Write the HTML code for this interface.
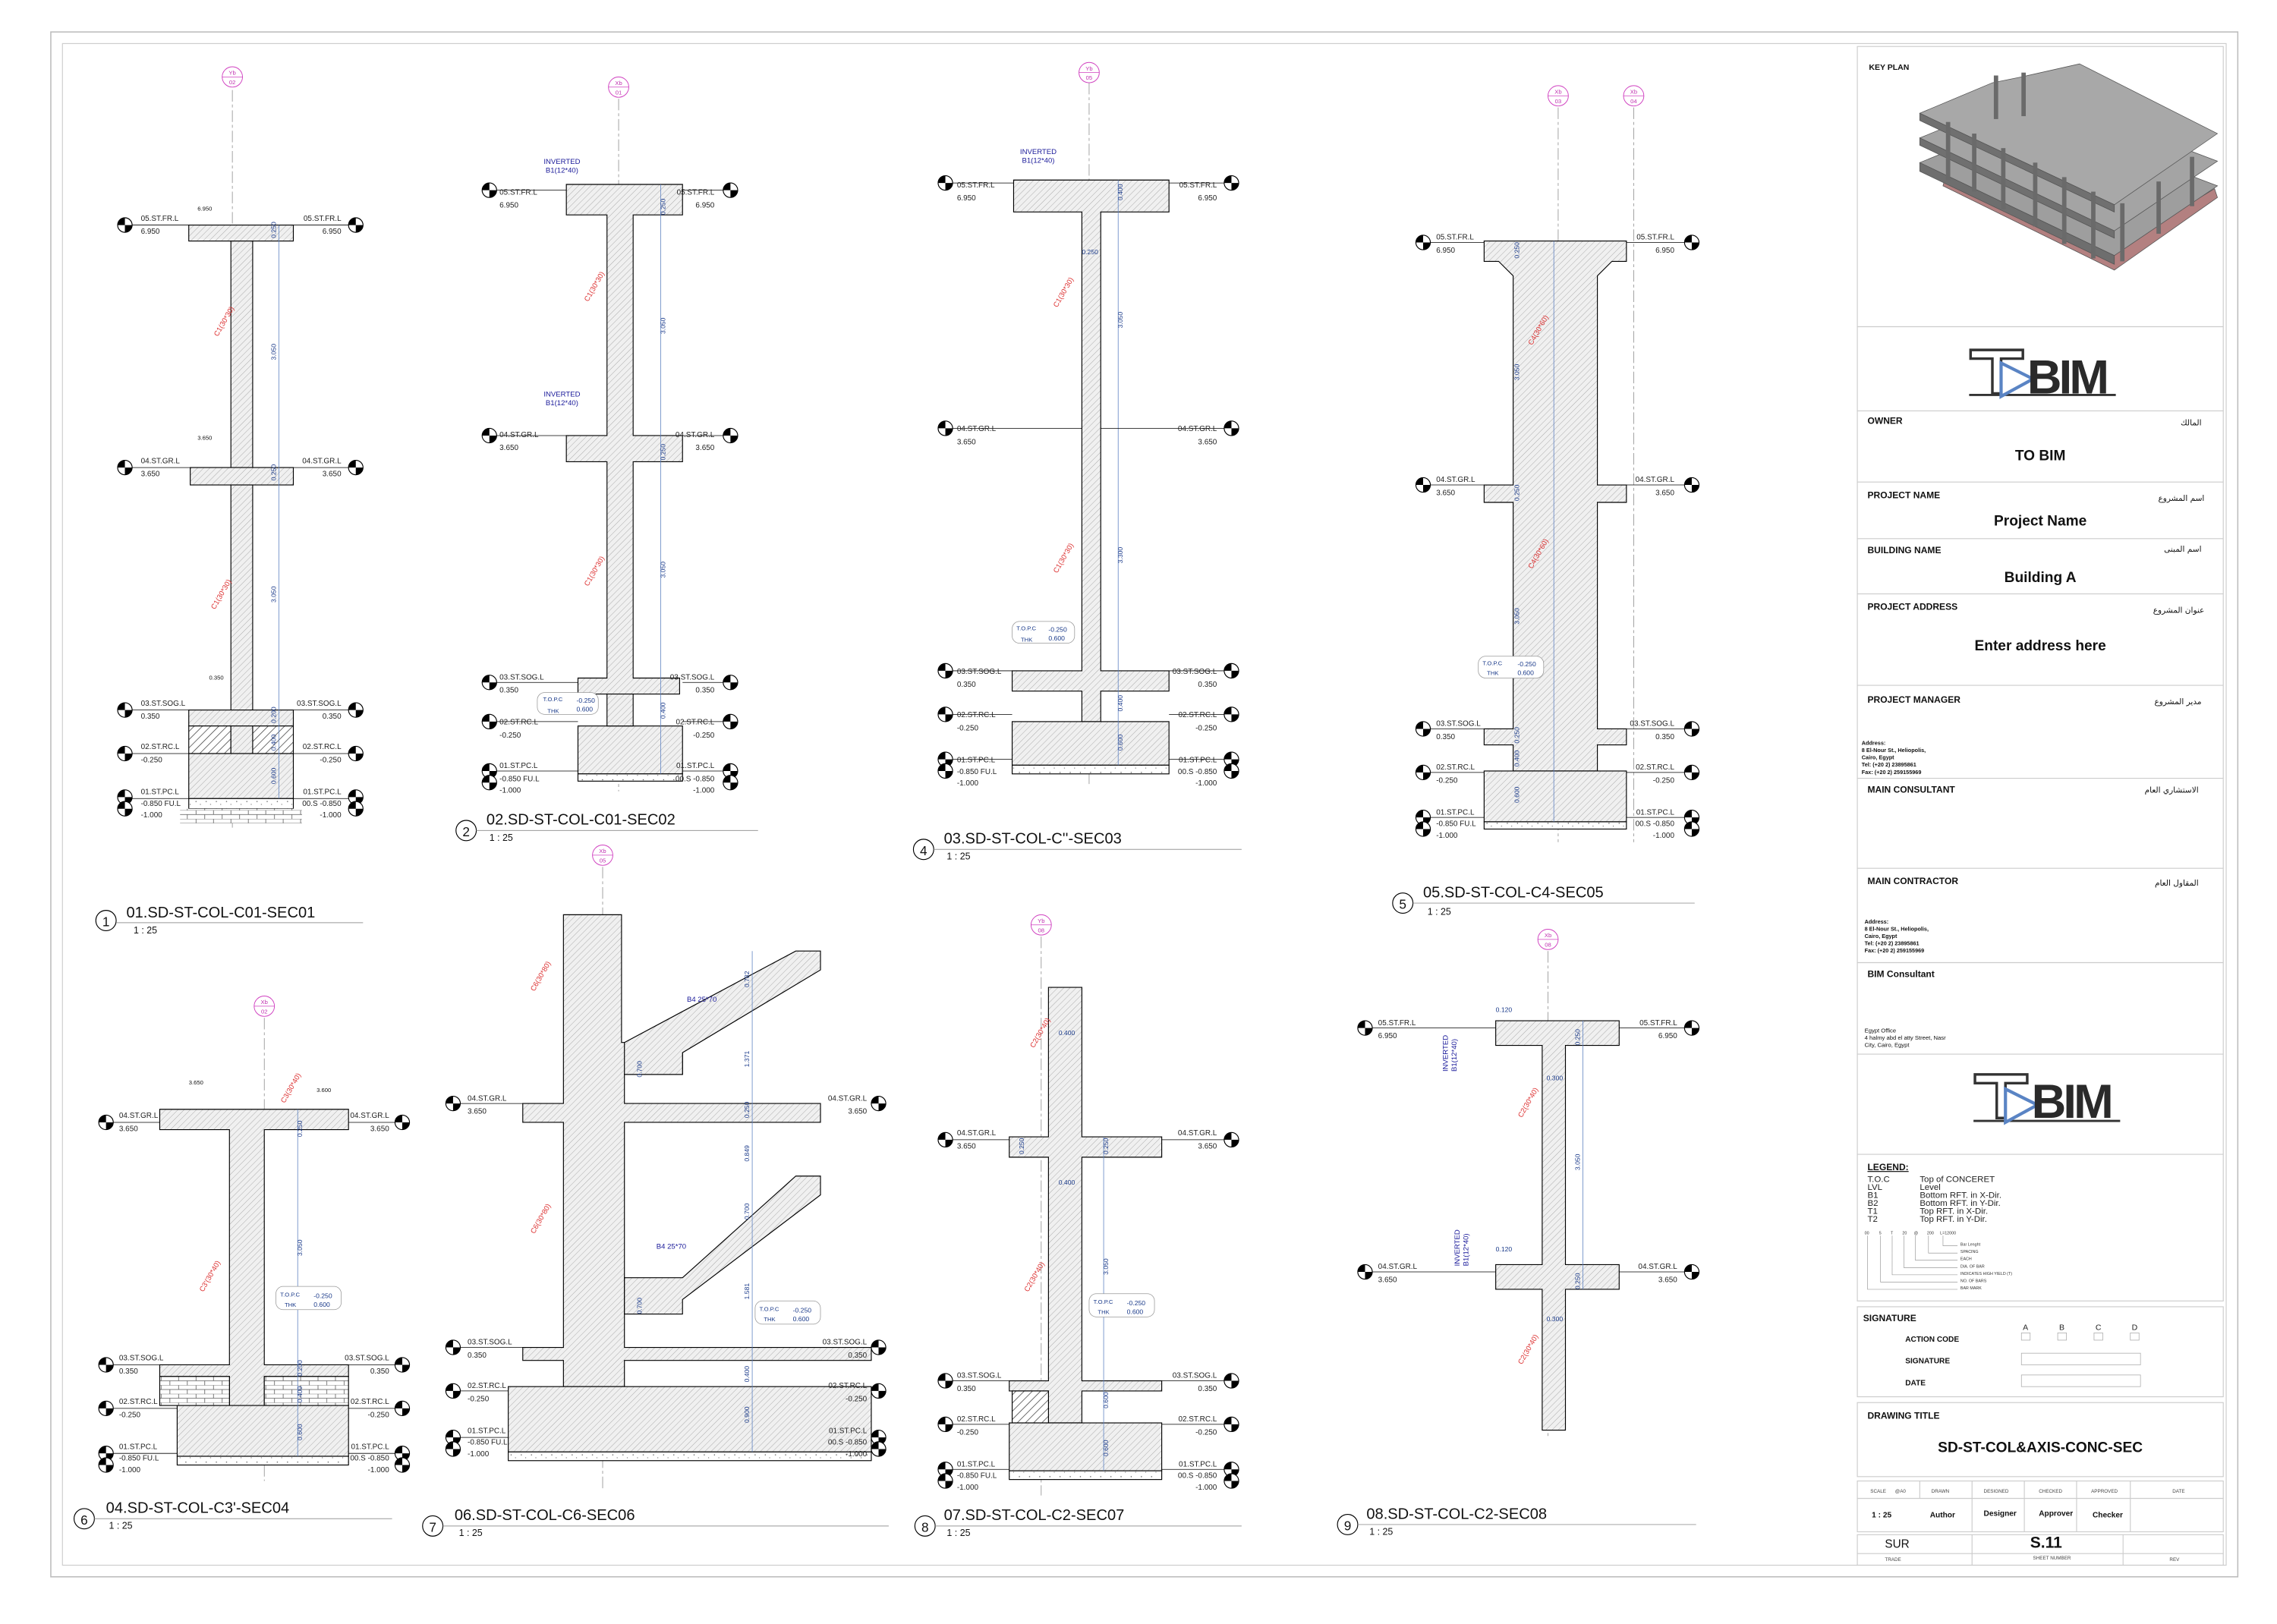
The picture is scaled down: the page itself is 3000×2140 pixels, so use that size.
<!DOCTYPE html>
<html><head><meta charset="utf-8"><style>
html,body{margin:0;padding:0;background:#fff}
svg{display:block}
text{font-family:"Liberation Sans",sans-serif}
.lv{font-size:5.2px;fill:#222}
.b{font-weight:bold}
.dim{font-size:4.5px;fill:#1a3a8a}
.red{font-size:5px;fill:#d33}
.blu{font-size:5px;fill:#1a1a9a}
.ttl{font-size:10.5px;fill:#111}
.sc{font-size:6.5px;fill:#111}
.hd{font-size:6.3px;font-weight:bold;fill:#111}
.bg{font-size:10px;font-weight:bold;fill:#111}
.sm{font-size:4px;fill:#111}
.ar{font-size:5.5px;fill:#111;font-family:"DejaVu Sans",sans-serif}
</style></head><body>
<svg width="3000" height="2140" viewBox="0 0 1568 1118.5" xmlns="http://www.w3.org/2000/svg">
<defs>
<pattern id="h" patternUnits="userSpaceOnUse" width="3" height="3" patternTransform="rotate(45)"><rect width="3" height="3" fill="#f0f0f0"/><line x1="0" y1="0" x2="0" y2="3" stroke="#8a8a8a" stroke-width="0.35"/></pattern>
<pattern id="hh" patternUnits="userSpaceOnUse" width="4" height="4" patternTransform="rotate(45)"><rect width="4" height="4" fill="#fff"/><line x1="0" y1="0" x2="0" y2="4" stroke="#444" stroke-width="0.8"/></pattern>
<pattern id="dt" patternUnits="userSpaceOnUse" width="7" height="5"><rect width="7" height="5" fill="#fff"/><circle cx="2" cy="2" r="0.4" fill="#555"/><circle cx="5" cy="4" r="0.3" fill="#555"/></pattern>
<pattern id="br" patternUnits="userSpaceOnUse" width="12" height="6"><rect width="12" height="6" fill="#fff"/><path d="M0 0H12M0 3H12M3 0V3M9 3V6" stroke="#555" stroke-width="0.4" fill="none"/></pattern>
<symbol id="m" viewBox="-6 -6 12 12" overflow="visible"><circle r="5" fill="#fff" stroke="#000" stroke-width="0.6"/><path d="M0 0H-5A5 5 0 0 1 0-5Z M0 0H5A5 5 0 0 1 0 5Z" fill="#000"/></symbol>
</defs>
<rect width="1568" height="1118.5" fill="#fff"/>
<rect x="35" y="22" width="1506" height="1064" fill="none" stroke="#bbb" stroke-width="0.8"/>
<rect x="43" y="30" width="1490" height="1048" fill="none" stroke="#ccc" stroke-width="0.6"/>

<g stroke="#000" stroke-width="0.6">
<!-- ===== SECTION 1 ===== -->
<line x1="160" y1="62" x2="160" y2="570" stroke="#888" stroke-width="0.4" stroke-dasharray="8 2 2 2"/>
<rect x="130" y="155" width="72" height="11" fill="url(#h)"/>
<rect x="159" y="166" width="15" height="156" fill="url(#h)"/>
<rect x="131" y="322" width="71" height="12" fill="url(#h)"/>
<rect x="159" y="334" width="15" height="155" fill="url(#h)"/>
<rect x="130" y="489" width="72" height="11" fill="url(#h)"/>
<rect x="130" y="500" width="29" height="19" fill="url(#hh)"/>
<rect x="174" y="500" width="28" height="19" fill="url(#hh)"/>
<rect x="159" y="500" width="15" height="19" fill="url(#h)"/>
<rect x="130" y="519" width="72" height="31" fill="url(#h)"/>
<rect x="130" y="550" width="72" height="7" fill="url(#dt)"/>
<rect x="124" y="557" width="84" height="10" fill="url(#br)" stroke="none"/>
<line x1="192" y1="155" x2="192" y2="550" stroke="#5a7fc0" stroke-width="0.4"/>
<g stroke-width="0.4"><line x1="91" y1="155" x2="130" y2="155"/><line x1="202" y1="155" x2="240" y2="155"/><line x1="91" y1="322" x2="131" y2="322"/><line x1="202" y1="322" x2="240" y2="322"/><line x1="91" y1="489" x2="130" y2="489"/><line x1="202" y1="489" x2="240" y2="489"/><line x1="91" y1="519" x2="130" y2="519"/><line x1="202" y1="519" x2="240" y2="519"/><line x1="91" y1="550" x2="130" y2="550"/><line x1="202" y1="550" x2="240" y2="550"/></g>
</g>
<g>
<circle cx="160" cy="53" r="7" fill="#fff" stroke="#d040c0" stroke-width="0.5"/><line x1="153" y1="53" x2="167" y2="53" stroke="#d040c0" stroke-width="0.4"/>
<text x="160" y="51.5" class="sm" text-anchor="middle" style="fill:#c030b0">Yb</text><text x="160" y="58" class="sm" text-anchor="middle" style="fill:#c030b0">02</text>
<use href="#m" x="80" y="149" width="12" height="12"/><use href="#m" x="239" y="149" width="12" height="12"/>
<use href="#m" x="80" y="316" width="12" height="12"/><use href="#m" x="239" y="316" width="12" height="12"/>
<use href="#m" x="80" y="483" width="12" height="12"/><use href="#m" x="239" y="483" width="12" height="12"/>
<use href="#m" x="80" y="513" width="12" height="12"/><use href="#m" x="239" y="513" width="12" height="12"/>
<use href="#m" x="80" y="543" width="12" height="12"/><use href="#m" x="239" y="543" width="12" height="12"/>
<use href="#m" x="80" y="551" width="12" height="12"/><use href="#m" x="239" y="551" width="12" height="12"/>
<text x="97" y="152" class="lv">05.ST.FR.L</text><text x="97" y="161" class="lv">6.950</text>
<text x="235" y="152" class="lv" text-anchor="end">05.ST.FR.L</text><text x="235" y="161" class="lv" text-anchor="end">6.950</text>
<text x="97" y="319" class="lv">04.ST.GR.L</text><text x="97" y="328" class="lv">3.650</text>
<text x="235" y="319" class="lv" text-anchor="end">04.ST.GR.L</text><text x="235" y="328" class="lv" text-anchor="end">3.650</text>
<text x="97" y="486" class="lv">03.ST.SOG.L</text><text x="97" y="495" class="lv">0.350</text>
<text x="235" y="486" class="lv" text-anchor="end">03.ST.SOG.L</text><text x="235" y="495" class="lv" text-anchor="end">0.350</text>
<text x="97" y="516" class="lv">02.ST.RC.L</text><text x="97" y="525" class="lv">-0.250</text>
<text x="235" y="516" class="lv" text-anchor="end">02.ST.RC.L</text><text x="235" y="525" class="lv" text-anchor="end">-0.250</text>
<text x="97" y="547" class="lv">01.ST.PC.L</text><text x="97" y="555" class="lv">-0.850 FU.L</text><text x="97" y="563" class="lv">-1.000</text>
<text x="235" y="547" class="lv" text-anchor="end">01.ST.PC.L</text><text x="235" y="555" class="lv" text-anchor="end">00.S -0.850</text><text x="235" y="563" class="lv" text-anchor="end">-1.000</text>
<text x="136" y="145" class="sm">6.950</text><text x="136" y="303" class="sm">3.650</text><text x="144" y="468" class="sm">0.350</text>
<text class="red" transform="translate(150,232) rotate(-60)">C1(30*30)</text>
<text class="red" transform="translate(148,420) rotate(-60)">C1(30*30)</text>
<text class="dim" transform="translate(190,248) rotate(-90)">3.050</text><text class="dim" transform="translate(190,415) rotate(-90)">3.050</text>
<text class="dim" transform="translate(190,164) rotate(-90)">0.250</text><text class="dim" transform="translate(190,331) rotate(-90)">0.250</text>
<text class="dim" transform="translate(190,498) rotate(-90)">0.200</text><text class="dim" transform="translate(190,517) rotate(-90)">0.400</text><text class="dim" transform="translate(190,540) rotate(-90)">0.600</text>
<circle cx="73" cy="634" r="7" fill="#fff" stroke="#000" stroke-width="0.6"/><text x="73" y="638" class="sc" text-anchor="middle" style="font-size:9px">1</text>
<text x="87" y="632" class="ttl">01.SD-ST-COL-C01-SEC01</text><line x1="80" y1="635.5" x2="250" y2="635.5" stroke="#999" stroke-width="0.5"/><text x="92" y="643" class="sc">1 : 25</text>
</g>

<!-- ===== SECTION 2 ===== -->
<g stroke="#000" stroke-width="0.6">
<line x1="426" y1="68" x2="426" y2="545" stroke="#888" stroke-width="0.4" stroke-dasharray="8 2 2 2"/>
<path d="M390 127H470V148H436V300H470V318H436V467H468V478H398V467H418V318H390V300H418V148H390Z" fill="url(#h)"/>
<rect x="398" y="500" width="72" height="33" fill="url(#h)"/>
<rect x="398" y="533" width="72" height="5" fill="url(#dt)"/>
<rect x="418" y="478" width="18" height="22" fill="url(#h)"/>
<line x1="455" y1="127" x2="455" y2="533" stroke="#5a7fc0" stroke-width="0.4"/>
<g stroke-width="0.4"><line x1="342" y1="131" x2="390" y2="131"/><line x1="470" y1="131" x2="498" y2="131"/><line x1="342" y1="300" x2="390" y2="300"/><line x1="470" y1="300" x2="498" y2="300"/><line x1="342" y1="470" x2="398" y2="470"/><line x1="470" y1="470" x2="498" y2="470"/><line x1="342" y1="497" x2="398" y2="497"/><line x1="470" y1="497" x2="498" y2="497"/><line x1="342" y1="531" x2="398" y2="531"/><line x1="470" y1="531" x2="498" y2="531"/></g>
<rect x="370" y="477" width="42" height="15" rx="5" fill="#fff" stroke="#999" stroke-width="0.4"/>
</g>
<g>
<circle cx="426" cy="60" r="7" fill="#fff" stroke="#d040c0" stroke-width="0.5"/><line x1="419" y1="60" x2="433" y2="60" stroke="#d040c0" stroke-width="0.4"/>
<text x="426" y="58.5" class="sm" text-anchor="middle" style="fill:#c030b0">Xb</text><text x="426" y="65" class="sm" text-anchor="middle" style="fill:#c030b0">01</text>
<use href="#m" x="331" y="125" width="12" height="12"/><use href="#m" x="497" y="125" width="12" height="12"/>
<use href="#m" x="331" y="294" width="12" height="12"/><use href="#m" x="497" y="294" width="12" height="12"/>
<use href="#m" x="331" y="464" width="12" height="12"/><use href="#m" x="497" y="464" width="12" height="12"/>
<use href="#m" x="331" y="491" width="12" height="12"/><use href="#m" x="497" y="491" width="12" height="12"/>
<use href="#m" x="331" y="525" width="12" height="12"/><use href="#m" x="497" y="525" width="12" height="12"/>
<use href="#m" x="331" y="533" width="12" height="12"/><use href="#m" x="497" y="533" width="12" height="12"/>
<text x="344" y="134" class="lv">05.ST.FR.L</text><text x="344" y="143" class="lv">6.950</text>
<text x="492" y="134" class="lv" text-anchor="end">05.ST.FR.L</text><text x="492" y="143" class="lv" text-anchor="end">6.950</text>
<text x="344" y="301" class="lv">04.ST.GR.L</text><text x="344" y="310" class="lv">3.650</text>
<text x="492" y="301" class="lv" text-anchor="end">04.ST.GR.L</text><text x="492" y="310" class="lv" text-anchor="end">3.650</text>
<text x="344" y="468" class="lv">03.ST.SOG.L</text><text x="344" y="477" class="lv">0.350</text>
<text x="492" y="468" class="lv" text-anchor="end">03.ST.SOG.L</text><text x="492" y="477" class="lv" text-anchor="end">0.350</text>
<text x="344" y="499" class="lv">02.ST.RC.L</text><text x="344" y="508" class="lv">-0.250</text>
<text x="492" y="499" class="lv" text-anchor="end">02.ST.RC.L</text><text x="492" y="508" class="lv" text-anchor="end">-0.250</text>
<text x="344" y="529" class="lv">01.ST.PC.L</text><text x="344" y="538" class="lv">-0.850 FU.L</text><text x="344" y="546" class="lv">-1.000</text>
<text x="492" y="529" class="lv" text-anchor="end">01.ST.PC.L</text><text x="492" y="538" class="lv" text-anchor="end">00.S -0.850</text><text x="492" y="546" class="lv" text-anchor="end">-1.000</text>
<text x="387" y="113" class="blu" text-anchor="middle">INVERTED</text><text x="387" y="119" class="blu" text-anchor="middle">B1(12*40)</text>
<text x="387" y="273" class="blu" text-anchor="middle">INVERTED</text><text x="387" y="279" class="blu" text-anchor="middle">B1(12*40)</text>
<text class="red" transform="translate(405,208) rotate(-60)">C1(30*30)</text><text class="red" transform="translate(405,404) rotate(-60)">C1(30*30)</text>
<text class="dim" transform="translate(458,230) rotate(-90)">3.050</text><text class="dim" transform="translate(458,398) rotate(-90)">3.050</text>
<text class="dim" transform="translate(458,148) rotate(-90)">0.250</text><text class="dim" transform="translate(458,317) rotate(-90)">0.250</text><text class="dim" transform="translate(458,495) rotate(-90)">0.400</text>
<text x="374" y="483" class="sm" style="fill:#1a3a8a">T.O.P.C</text><text x="397" y="484" class="dim">-0.250</text><text x="377" y="491" class="sm" style="fill:#1a3a8a">THK</text><text x="397" y="490" class="dim">0.600</text>
<circle cx="321" cy="572" r="7" fill="#fff" stroke="#000" stroke-width="0.6"/><text x="321" y="576" class="sc" text-anchor="middle" style="font-size:9px">2</text>
<text x="335" y="568" class="ttl">02.SD-ST-COL-C01-SEC02</text><line x1="328" y1="572" x2="522" y2="572" stroke="#999" stroke-width="0.5"/><text x="337" y="579" class="sc">1 : 25</text>
</g>

<!-- ===== SECTION 4 (03) ===== -->
<g stroke="#000" stroke-width="0.6">
<line x1="750" y1="57" x2="750" y2="540" stroke="#888" stroke-width="0.4" stroke-dasharray="8 2 2 2"/>
<path d="M698 124H805V146H758V462H805V476H758V497H745V476H697V462H745V146H698Z" fill="url(#h)"/>
<rect x="697" y="497" width="108" height="30" fill="url(#h)"/>
<rect x="697" y="527" width="108" height="6" fill="url(#dt)"/>
<line x1="770" y1="124" x2="770" y2="527" stroke="#5a7fc0" stroke-width="0.4"/>
<g stroke-width="0.4"><line x1="656" y1="126" x2="698" y2="126"/><line x1="805" y1="126" x2="843" y2="126"/><line x1="656" y1="295" x2="745" y2="295"/><line x1="758" y1="295" x2="843" y2="295"/><line x1="656" y1="462" x2="697" y2="462"/><line x1="805" y1="462" x2="843" y2="462"/><line x1="656" y1="492" x2="697" y2="492"/><line x1="805" y1="492" x2="843" y2="492"/><line x1="656" y1="523" x2="697" y2="523"/><line x1="805" y1="523" x2="843" y2="523"/></g>
<rect x="697" y="428" width="43" height="15" rx="5" fill="#fff" stroke="#999" stroke-width="0.4"/>
</g>
<g>
<circle cx="750" cy="50" r="7" fill="#fff" stroke="#d040c0" stroke-width="0.5"/><line x1="743" y1="50" x2="757" y2="50" stroke="#d040c0" stroke-width="0.4"/>
<text x="750" y="48.5" class="sm" text-anchor="middle" style="fill:#c030b0">Yb</text><text x="750" y="55" class="sm" text-anchor="middle" style="fill:#c030b0">05</text>
<use href="#m" x="645" y="120" width="12" height="12"/><use href="#m" x="842" y="120" width="12" height="12"/>
<use href="#m" x="645" y="289" width="12" height="12"/><use href="#m" x="842" y="289" width="12" height="12"/>
<use href="#m" x="645" y="456" width="12" height="12"/><use href="#m" x="842" y="456" width="12" height="12"/>
<use href="#m" x="645" y="486" width="12" height="12"/><use href="#m" x="842" y="486" width="12" height="12"/>
<use href="#m" x="645" y="517" width="12" height="12"/><use href="#m" x="842" y="517" width="12" height="12"/>
<use href="#m" x="645" y="525" width="12" height="12"/><use href="#m" x="842" y="525" width="12" height="12"/>
<text x="659" y="129" class="lv">05.ST.FR.L</text><text x="659" y="138" class="lv">6.950</text>
<text x="838" y="129" class="lv" text-anchor="end">05.ST.FR.L</text><text x="838" y="138" class="lv" text-anchor="end">6.950</text>
<text x="659" y="297" class="lv">04.ST.GR.L</text><text x="659" y="306" class="lv">3.650</text>
<text x="838" y="297" class="lv" text-anchor="end">04.ST.GR.L</text><text x="838" y="306" class="lv" text-anchor="end">3.650</text>
<text x="659" y="464" class="lv">03.ST.SOG.L</text><text x="659" y="473" class="lv">0.350</text>
<text x="838" y="464" class="lv" text-anchor="end">03.ST.SOG.L</text><text x="838" y="473" class="lv" text-anchor="end">0.350</text>
<text x="659" y="494" class="lv">02.ST.RC.L</text><text x="659" y="503" class="lv">-0.250</text>
<text x="838" y="494" class="lv" text-anchor="end">02.ST.RC.L</text><text x="838" y="503" class="lv" text-anchor="end">-0.250</text>
<text x="659" y="525" class="lv">01.ST.PC.L</text><text x="659" y="533" class="lv">-0.850 FU.L</text><text x="659" y="541" class="lv">-1.000</text>
<text x="838" y="525" class="lv" text-anchor="end">01.ST.PC.L</text><text x="838" y="533" class="lv" text-anchor="end">00.S -0.850</text><text x="838" y="541" class="lv" text-anchor="end">-1.000</text>
<text x="715" y="106" class="blu" text-anchor="middle">INVERTED</text><text x="715" y="112" class="blu" text-anchor="middle">B1(12*40)</text>
<text class="red" transform="translate(728,212) rotate(-60)">C1(30*30)</text><text class="red" transform="translate(728,395) rotate(-60)">C1(30*30)</text>
<text class="dim" transform="translate(773,226) rotate(-90)">3.050</text><text class="dim" transform="translate(773,388) rotate(-90)">3.300</text>
<text class="dim" transform="translate(773,138) rotate(-90)">0.400</text><text x="745" y="175" class="dim">0.250</text><text class="dim" transform="translate(773,490) rotate(-90)">0.400</text><text class="dim" transform="translate(773,517) rotate(-90)">0.600</text>
<text x="700" y="434" class="sm" style="fill:#1a3a8a">T.O.P.C</text><text x="722" y="435" class="dim">-0.250</text><text x="703" y="442" class="sm" style="fill:#1a3a8a">THK</text><text x="722" y="441" class="dim">0.600</text>
<circle cx="636" cy="585" r="7" fill="#fff" stroke="#000" stroke-width="0.6"/><text x="636" y="589" class="sc" text-anchor="middle" style="font-size:9px">4</text>
<text x="650" y="581" class="ttl">03.SD-ST-COL-C''-SEC03</text><line x1="643" y1="585" x2="855" y2="585" stroke="#999" stroke-width="0.5"/><text x="652" y="592" class="sc">1 : 25</text>
</g>

<!-- ===== SECTION 5 ===== -->
<g stroke="#000" stroke-width="0.6">
<line x1="1073" y1="74" x2="1073" y2="580" stroke="#888" stroke-width="0.4" stroke-dasharray="8 2 2 2"/>
<line x1="1125" y1="74" x2="1125" y2="580" stroke="#888" stroke-width="0.4" stroke-dasharray="8 2 2 2"/>
<path d="M1022 166H1120V180H1110L1100 190V334H1120V346H1100V502H1120V513H1100V531H1042V513H1022V502H1042V346H1022V334H1042V190L1032 180H1022Z" fill="url(#h)"/>
<rect x="1022" y="531" width="98" height="35" fill="url(#h)"/>
<rect x="1022" y="566" width="98" height="5" fill="url(#dt)"/>
<line x1="1070" y1="166" x2="1070" y2="566" stroke="#5a7fc0" stroke-width="0.4"/>
<g stroke-width="0.4"><line x1="985" y1="167" x2="1022" y2="167"/><line x1="1120" y1="167" x2="1160" y2="167"/><line x1="985" y1="334" x2="1022" y2="334"/><line x1="1120" y1="334" x2="1160" y2="334"/><line x1="985" y1="502" x2="1022" y2="502"/><line x1="1120" y1="502" x2="1160" y2="502"/><line x1="985" y1="532" x2="1022" y2="532"/><line x1="1120" y1="532" x2="1160" y2="532"/><line x1="985" y1="563" x2="1022" y2="563"/><line x1="1120" y1="563" x2="1160" y2="563"/></g>
<rect x="1018" y="452" width="45" height="15" rx="5" fill="#fff" stroke="#999" stroke-width="0.4"/>
</g>
<g>
<circle cx="1073" cy="66" r="7" fill="#fff" stroke="#d040c0" stroke-width="0.5"/><line x1="1066" y1="66" x2="1080" y2="66" stroke="#d040c0" stroke-width="0.4"/>
<text x="1073" y="64.5" class="sm" text-anchor="middle" style="fill:#c030b0">Xb</text><text x="1073" y="71" class="sm" text-anchor="middle" style="fill:#c030b0">03</text>
<circle cx="1125" cy="66" r="7" fill="#fff" stroke="#d040c0" stroke-width="0.5"/><line x1="1118" y1="66" x2="1132" y2="66" stroke="#d040c0" stroke-width="0.4"/>
<text x="1125" y="64.5" class="sm" text-anchor="middle" style="fill:#c030b0">Xb</text><text x="1125" y="71" class="sm" text-anchor="middle" style="fill:#c030b0">04</text>
<use href="#m" x="974" y="161" width="12" height="12"/><use href="#m" x="1159" y="161" width="12" height="12"/>
<use href="#m" x="974" y="328" width="12" height="12"/><use href="#m" x="1159" y="328" width="12" height="12"/>
<use href="#m" x="974" y="496" width="12" height="12"/><use href="#m" x="1159" y="496" width="12" height="12"/>
<use href="#m" x="974" y="526" width="12" height="12"/><use href="#m" x="1159" y="526" width="12" height="12"/>
<use href="#m" x="974" y="557" width="12" height="12"/><use href="#m" x="1159" y="557" width="12" height="12"/>
<use href="#m" x="974" y="565" width="12" height="12"/><use href="#m" x="1159" y="565" width="12" height="12"/>
<text x="989" y="165" class="lv">05.ST.FR.L</text><text x="989" y="174" class="lv">6.950</text>
<text x="1153" y="165" class="lv" text-anchor="end">05.ST.FR.L</text><text x="1153" y="174" class="lv" text-anchor="end">6.950</text>
<text x="989" y="332" class="lv">04.ST.GR.L</text><text x="989" y="341" class="lv">3.650</text>
<text x="1153" y="332" class="lv" text-anchor="end">04.ST.GR.L</text><text x="1153" y="341" class="lv" text-anchor="end">3.650</text>
<text x="989" y="500" class="lv">03.ST.SOG.L</text><text x="989" y="509" class="lv">0.350</text>
<text x="1153" y="500" class="lv" text-anchor="end">03.ST.SOG.L</text><text x="1153" y="509" class="lv" text-anchor="end">0.350</text>
<text x="989" y="530" class="lv">02.ST.RC.L</text><text x="989" y="539" class="lv">-0.250</text>
<text x="1153" y="530" class="lv" text-anchor="end">02.ST.RC.L</text><text x="1153" y="539" class="lv" text-anchor="end">-0.250</text>
<text x="989" y="561" class="lv">01.ST.PC.L</text><text x="989" y="569" class="lv">-0.850 FU.L</text><text x="989" y="577" class="lv">-1.000</text>
<text x="1153" y="561" class="lv" text-anchor="end">01.ST.PC.L</text><text x="1153" y="569" class="lv" text-anchor="end">00.S -0.850</text><text x="1153" y="577" class="lv" text-anchor="end">-1.000</text>
<text class="red" transform="translate(1055,238) rotate(-60)">C4(30*60)</text><text class="red" transform="translate(1055,392) rotate(-60)">C4(30*60)</text>
<text class="dim" transform="translate(1046,262) rotate(-90)">3.050</text><text class="dim" transform="translate(1046,430) rotate(-90)">3.050</text>
<text class="dim" transform="translate(1046,178) rotate(-90)">0.250</text><text class="dim" transform="translate(1046,345) rotate(-90)">0.250</text><text class="dim" transform="translate(1046,512) rotate(-90)">0.250</text><text class="dim" transform="translate(1046,528) rotate(-90)">0.400</text><text class="dim" transform="translate(1046,553) rotate(-90)">0.600</text>
<text x="1021" y="458" class="sm" style="fill:#1a3a8a">T.O.P.C</text><text x="1045" y="459" class="dim">-0.250</text><text x="1024" y="465" class="sm" style="fill:#1a3a8a">THK</text><text x="1045" y="465" class="dim">0.600</text>
<circle cx="966" cy="622" r="7" fill="#fff" stroke="#000" stroke-width="0.6"/><text x="966" y="626" class="sc" text-anchor="middle" style="font-size:9px">5</text>
<text x="980" y="618" class="ttl">05.SD-ST-COL-C4-SEC05</text><line x1="973" y1="622" x2="1167" y2="622" stroke="#999" stroke-width="0.5"/><text x="983" y="630" class="sc">1 : 25</text>
</g>

<!-- ===== SECTION 6 (04) ===== -->
<g stroke="#000" stroke-width="0.6">
<line x1="182" y1="701" x2="182" y2="1020" stroke="#888" stroke-width="0.4" stroke-dasharray="8 2 2 2"/>
<path d="M110 764H240V778H182V940H240V948H182V968H158V948H110V940H158V778H110Z" fill="url(#h)"/>
<rect x="110" y="948" width="48" height="20" fill="url(#br)"/>
<rect x="182" y="948" width="58" height="20" fill="url(#br)"/>
<rect x="122" y="968" width="118" height="35" fill="url(#h)"/>
<rect x="122" y="1003" width="118" height="6" fill="url(#dt)"/>
<line x1="205" y1="764" x2="205" y2="1003" stroke="#5a7fc0" stroke-width="0.4"/>
<g stroke-width="0.4"><line x1="78" y1="773" x2="110" y2="773"/><line x1="240" y1="773" x2="272" y2="773"/><line x1="78" y1="940" x2="110" y2="940"/><line x1="240" y1="940" x2="272" y2="940"/><line x1="78" y1="970" x2="122" y2="970"/><line x1="240" y1="970" x2="272" y2="970"/><line x1="78" y1="1001" x2="122" y2="1001"/><line x1="240" y1="1001" x2="272" y2="1001"/></g>
<rect x="190" y="886" width="45" height="16" rx="5" fill="#fff" stroke="#999" stroke-width="0.4"/>
</g>
<g>
<circle cx="182" cy="693" r="7" fill="#fff" stroke="#d040c0" stroke-width="0.5"/><line x1="175" y1="693" x2="189" y2="693" stroke="#d040c0" stroke-width="0.4"/>
<text x="182" y="691.5" class="sm" text-anchor="middle" style="fill:#c030b0">Xb</text><text x="182" y="698" class="sm" text-anchor="middle" style="fill:#c030b0">02</text>
<use href="#m" x="67" y="767" width="12" height="12"/><use href="#m" x="271" y="767" width="12" height="12"/>
<use href="#m" x="67" y="934" width="12" height="12"/><use href="#m" x="271" y="934" width="12" height="12"/>
<use href="#m" x="67" y="964" width="12" height="12"/><use href="#m" x="271" y="964" width="12" height="12"/>
<use href="#m" x="67" y="995" width="12" height="12"/><use href="#m" x="271" y="995" width="12" height="12"/>
<use href="#m" x="67" y="1003" width="12" height="12"/><use href="#m" x="271" y="1003" width="12" height="12"/>
<text x="82" y="770" class="lv">04.ST.GR.L</text><text x="82" y="779" class="lv">3.650</text>
<text x="268" y="770" class="lv" text-anchor="end">04.ST.GR.L</text><text x="268" y="779" class="lv" text-anchor="end">3.650</text>
<text x="82" y="937" class="lv">03.ST.SOG.L</text><text x="82" y="946" class="lv">0.350</text>
<text x="268" y="937" class="lv" text-anchor="end">03.ST.SOG.L</text><text x="268" y="946" class="lv" text-anchor="end">0.350</text>
<text x="82" y="967" class="lv">02.ST.RC.L</text><text x="82" y="976" class="lv">-0.250</text>
<text x="268" y="967" class="lv" text-anchor="end">02.ST.RC.L</text><text x="268" y="976" class="lv" text-anchor="end">-0.250</text>
<text x="82" y="998" class="lv">01.ST.PC.L</text><text x="82" y="1006" class="lv">-0.850 FU.L</text><text x="82" y="1014" class="lv">-1.000</text>
<text x="268" y="998" class="lv" text-anchor="end">01.ST.PC.L</text><text x="268" y="1006" class="lv" text-anchor="end">00.S -0.850</text><text x="268" y="1014" class="lv" text-anchor="end">-1.000</text>
<text x="130" y="747" class="sm">3.650</text><text x="218" y="752" class="sm">3.600</text>
<text class="red" transform="translate(196,760) rotate(-60)">C3(30*40)</text><text class="red" transform="translate(140,890) rotate(-60)">C3'(30*40)</text>
<text class="dim" transform="translate(208,865) rotate(-90)">3.050</text><text class="dim" transform="translate(208,783) rotate(-90)">0.250</text><text class="dim" transform="translate(208,948) rotate(-90)">0.200</text><text class="dim" transform="translate(208,966) rotate(-90)">0.400</text><text class="dim" transform="translate(208,992) rotate(-90)">0.600</text>
<text x="193" y="893" class="sm" style="fill:#1a3a8a">T.O.P.C</text><text x="216" y="894" class="dim">-0.250</text><text x="196" y="900" class="sm" style="fill:#1a3a8a">THK</text><text x="216" y="900" class="dim">0.600</text>
<circle cx="58" cy="1046" r="7" fill="#fff" stroke="#000" stroke-width="0.6"/><text x="58" y="1050" class="sc" text-anchor="middle" style="font-size:9px">6</text>
<text x="73" y="1042" class="ttl">04.SD-ST-COL-C3'-SEC04</text><line x1="65" y1="1046" x2="270" y2="1046" stroke="#999" stroke-width="0.5"/><text x="75" y="1053" class="sc">1 : 25</text>
</g>

<!-- ===== SECTION 7 (06) ===== -->
<g stroke="#000" stroke-width="0.6">
<line x1="415" y1="597" x2="415" y2="1025" stroke="#888" stroke-width="0.4" stroke-dasharray="8 2 2 2"/>
<path d="M388 630H428V718H470V740H430V760H565V773H430V928H600V937H430V955H388V937H360V928H388V773H360V760H388Z" fill="url(#h)"/>
<polygon points="430,718 548,655 565,655 565,668 470,725 470,740 430,740" fill="url(#h)"/>
<polygon points="430,880 470,880 548,810 565,810 565,823 470,895 470,905 430,905" fill="url(#h)"/>
<rect x="350" y="955" width="250" height="45" fill="url(#h)"/>
<rect x="350" y="1000" width="250" height="6" fill="url(#dt)"/>
<line x1="518" y1="655" x2="518" y2="1000" stroke="#5a7fc0" stroke-width="0.4"/>
<g stroke-width="0.4"><line x1="317" y1="760" x2="360" y2="760"/><line x1="317" y1="928" x2="360" y2="928"/><line x1="317" y1="958" x2="350" y2="958"/><line x1="317" y1="990" x2="350" y2="990"/></g>
<rect x="520" y="896" width="45" height="16" rx="5" fill="#fff" stroke="#999" stroke-width="0.4"/>
</g>
<g>
<circle cx="415" cy="589" r="7" fill="#fff" stroke="#d040c0" stroke-width="0.5"/><line x1="408" y1="589" x2="422" y2="589" stroke="#d040c0" stroke-width="0.4"/>
<text x="415" y="587.5" class="sm" text-anchor="middle" style="fill:#c030b0">Xb</text><text x="415" y="594" class="sm" text-anchor="middle" style="fill:#c030b0">05</text>
<use href="#m" x="306" y="754" width="12" height="12"/><use href="#m" x="599" y="754" width="12" height="12"/>
<use href="#m" x="306" y="922" width="12" height="12"/><use href="#m" x="599" y="922" width="12" height="12"/>
<use href="#m" x="306" y="952" width="12" height="12"/><use href="#m" x="599" y="952" width="12" height="12"/>
<use href="#m" x="306" y="984" width="12" height="12"/><use href="#m" x="599" y="984" width="12" height="12"/>
<use href="#m" x="306" y="992" width="12" height="12"/><use href="#m" x="599" y="992" width="12" height="12"/>
<text x="322" y="758" class="lv">04.ST.GR.L</text><text x="322" y="767" class="lv">3.650</text>
<text x="597" y="758" class="lv" text-anchor="end">04.ST.GR.L</text><text x="597" y="767" class="lv" text-anchor="end">3.650</text>
<text x="322" y="926" class="lv">03.ST.SOG.L</text><text x="322" y="935" class="lv">0.350</text>
<text x="597" y="926" class="lv" text-anchor="end">03.ST.SOG.L</text><text x="597" y="935" class="lv" text-anchor="end">0.350</text>
<text x="322" y="956" class="lv">02.ST.RC.L</text><text x="322" y="965" class="lv">-0.250</text>
<text x="597" y="956" class="lv" text-anchor="end">02.ST.RC.L</text><text x="597" y="965" class="lv" text-anchor="end">-0.250</text>
<text x="322" y="987" class="lv">01.ST.PC.L</text><text x="322" y="995" class="lv">-0.850 FU.L</text><text x="322" y="1003" class="lv">-1.000</text>
<text x="597" y="987" class="lv" text-anchor="end">01.ST.PC.L</text><text x="597" y="995" class="lv" text-anchor="end">00.S -0.850</text><text x="597" y="1003" class="lv" text-anchor="end">-1.000</text>
<text x="473" y="690" class="blu">B4 25*70</text><text x="452" y="860" class="blu">B4 25*70</text>
<text class="red" transform="translate(368,683) rotate(-60)">C6(30*80)</text><text class="red" transform="translate(368,850) rotate(-60)">C6(30*80)</text>
<text class="dim" transform="translate(516,680) rotate(-90)">0.782</text><text class="dim" transform="translate(516,735) rotate(-90)">1.371</text><text class="dim" transform="translate(516,770) rotate(-90)">0.250</text><text class="dim" transform="translate(516,800) rotate(-90)">0.849</text><text class="dim" transform="translate(516,840) rotate(-90)">0.700</text><text class="dim" transform="translate(516,895) rotate(-90)">1.581</text><text class="dim" transform="translate(516,952) rotate(-90)">0.400</text><text class="dim" transform="translate(516,980) rotate(-90)">0.900</text>
<text class="dim" transform="translate(442,742) rotate(-90)">0.700</text><text class="dim" transform="translate(442,905) rotate(-90)">0.700</text>
<text x="523" y="903" class="sm" style="fill:#1a3a8a">T.O.P.C</text><text x="546" y="904" class="dim">-0.250</text><text x="526" y="910" class="sm" style="fill:#1a3a8a">THK</text><text x="546" y="910" class="dim">0.600</text>
<circle cx="298" cy="1051" r="7" fill="#fff" stroke="#000" stroke-width="0.6"/><text x="298" y="1055" class="sc" text-anchor="middle" style="font-size:9px">7</text>
<text x="313" y="1047" class="ttl">06.SD-ST-COL-C6-SEC06</text><line x1="305" y1="1051" x2="612" y2="1051" stroke="#999" stroke-width="0.5"/><text x="316" y="1058" class="sc">1 : 25</text>
</g>

<!-- ===== SECTION 8 (07) ===== -->
<g stroke="#000" stroke-width="0.6">
<line x1="717" y1="645" x2="717" y2="1030" stroke="#888" stroke-width="0.4" stroke-dasharray="8 2 2 2"/>
<path d="M722 680H745V783H800V797H745V951H800V958H745V980H722V958H695V951H722V797H695V783H722Z" fill="url(#h)"/>
<rect x="697" y="958" width="25" height="22" fill="url(#hh)"/>
<rect x="695" y="980" width="105" height="33" fill="url(#h)"/>
<rect x="695" y="1013" width="105" height="6" fill="url(#dt)"/>
<line x1="760" y1="783" x2="760" y2="1013" stroke="#5a7fc0" stroke-width="0.4"/>
<g stroke-width="0.4"><line x1="656" y1="785" x2="695" y2="785"/><line x1="800" y1="785" x2="843" y2="785"/><line x1="656" y1="951" x2="695" y2="951"/><line x1="800" y1="951" x2="843" y2="951"/><line x1="656" y1="981" x2="695" y2="981"/><line x1="800" y1="981" x2="843" y2="981"/><line x1="656" y1="1012" x2="695" y2="1012"/><line x1="800" y1="1012" x2="843" y2="1012"/></g>
<rect x="750" y="891" width="45" height="16" rx="5" fill="#fff" stroke="#999" stroke-width="0.4"/>
</g>
<g>
<circle cx="717" cy="637" r="7" fill="#fff" stroke="#d040c0" stroke-width="0.5"/><line x1="710" y1="637" x2="724" y2="637" stroke="#d040c0" stroke-width="0.4"/>
<text x="717" y="635.5" class="sm" text-anchor="middle" style="fill:#c030b0">Yb</text><text x="717" y="642" class="sm" text-anchor="middle" style="fill:#c030b0">08</text>
<use href="#m" x="645" y="779" width="12" height="12"/><use href="#m" x="842" y="779" width="12" height="12"/>
<use href="#m" x="645" y="945" width="12" height="12"/><use href="#m" x="842" y="945" width="12" height="12"/>
<use href="#m" x="645" y="975" width="12" height="12"/><use href="#m" x="842" y="975" width="12" height="12"/>
<use href="#m" x="645" y="1006" width="12" height="12"/><use href="#m" x="842" y="1006" width="12" height="12"/>
<use href="#m" x="645" y="1014" width="12" height="12"/><use href="#m" x="842" y="1014" width="12" height="12"/>
<text x="659" y="782" class="lv">04.ST.GR.L</text><text x="659" y="791" class="lv">3.650</text>
<text x="838" y="782" class="lv" text-anchor="end">04.ST.GR.L</text><text x="838" y="791" class="lv" text-anchor="end">3.650</text>
<text x="659" y="949" class="lv">03.ST.SOG.L</text><text x="659" y="958" class="lv">0.350</text>
<text x="838" y="949" class="lv" text-anchor="end">03.ST.SOG.L</text><text x="838" y="958" class="lv" text-anchor="end">0.350</text>
<text x="659" y="979" class="lv">02.ST.RC.L</text><text x="659" y="988" class="lv">-0.250</text>
<text x="838" y="979" class="lv" text-anchor="end">02.ST.RC.L</text><text x="838" y="988" class="lv" text-anchor="end">-0.250</text>
<text x="659" y="1010" class="lv">01.ST.PC.L</text><text x="659" y="1018" class="lv">-0.850 FU.L</text><text x="659" y="1026" class="lv">-1.000</text>
<text x="838" y="1010" class="lv" text-anchor="end">01.ST.PC.L</text><text x="838" y="1018" class="lv" text-anchor="end">00.S -0.850</text><text x="838" y="1026" class="lv" text-anchor="end">-1.000</text>
<text class="red" transform="translate(712,722) rotate(-60)">C2(30*40)</text><text class="red" transform="translate(708,890) rotate(-60)">C2(30*40)</text>
<text x="729" y="713" class="dim">0.400</text><text x="729" y="816" class="dim">0.400</text>
<text class="dim" transform="translate(763,878) rotate(-90)">3.050</text><text class="dim" transform="translate(763,795) rotate(-90)">0.250</text><text class="dim" transform="translate(705,795) rotate(-90)">0.250</text><text class="dim" transform="translate(763,970) rotate(-90)">0.600</text><text class="dim" transform="translate(763,1003) rotate(-90)">0.600</text>
<text x="753" y="898" class="sm" style="fill:#1a3a8a">T.O.P.C</text><text x="776" y="899" class="dim">-0.250</text><text x="756" y="905" class="sm" style="fill:#1a3a8a">THK</text><text x="776" y="905" class="dim">0.600</text>
<circle cx="637" cy="1051" r="7" fill="#fff" stroke="#000" stroke-width="0.6"/><text x="637" y="1055" class="sc" text-anchor="middle" style="font-size:9px">8</text>
<text x="650" y="1047" class="ttl">07.SD-ST-COL-C2-SEC07</text><line x1="644" y1="1051" x2="855" y2="1051" stroke="#999" stroke-width="0.5"/><text x="652" y="1058" class="sc">1 : 25</text>
</g>

<!-- ===== SECTION 9 (08) ===== -->
<g stroke="#000" stroke-width="0.6">
<line x1="1066" y1="655" x2="1066" y2="990" stroke="#888" stroke-width="0.4" stroke-dasharray="8 2 2 2"/>
<path d="M1030 703H1115V720H1078V871H1115V888H1078V985H1062V888H1030V871H1062V720H1030Z" fill="url(#h)"/>
<line x1="1090" y1="703" x2="1090" y2="888" stroke="#5a7fc0" stroke-width="0.4"/>
<g stroke-width="0.4"><line x1="945" y1="708" x2="1030" y2="708"/><line x1="1115" y1="708" x2="1160" y2="708"/><line x1="945" y1="876" x2="1030" y2="876"/><line x1="1115" y1="876" x2="1160" y2="876"/></g>
</g>
<g>
<circle cx="1066" cy="647" r="7" fill="#fff" stroke="#d040c0" stroke-width="0.5"/><line x1="1059" y1="647" x2="1073" y2="647" stroke="#d040c0" stroke-width="0.4"/>
<text x="1066" y="645.5" class="sm" text-anchor="middle" style="fill:#c030b0">Xb</text><text x="1066" y="652" class="sm" text-anchor="middle" style="fill:#c030b0">08</text>
<use href="#m" x="934" y="702" width="12" height="12"/><use href="#m" x="1159" y="702" width="12" height="12"/>
<use href="#m" x="934" y="870" width="12" height="12"/><use href="#m" x="1159" y="870" width="12" height="12"/>
<text x="949" y="706" class="lv">05.ST.FR.L</text><text x="949" y="715" class="lv">6.950</text>
<text x="1155" y="706" class="lv" text-anchor="end">05.ST.FR.L</text><text x="1155" y="715" class="lv" text-anchor="end">6.950</text>
<text x="949" y="874" class="lv">04.ST.GR.L</text><text x="949" y="883" class="lv">3.650</text>
<text x="1155" y="874" class="lv" text-anchor="end">04.ST.GR.L</text><text x="1155" y="883" class="lv" text-anchor="end">3.650</text>
<text class="blu" transform="translate(997,738) rotate(-90)">INVERTED</text><text class="blu" transform="translate(1003,738) rotate(-90)">B1(12*40)</text>
<text class="blu" transform="translate(1005,872) rotate(-90)">INVERTED</text><text class="blu" transform="translate(1011,872) rotate(-90)">B1(12*40)</text>
<text x="1030" y="697" class="dim">0.120</text><text x="1030" y="862" class="dim">0.120</text>
<text x="1065" y="744" class="dim">0.300</text><text x="1065" y="910" class="dim">0.300</text>
<text class="dim" transform="translate(1088,806) rotate(-90)">3.050</text><text class="dim" transform="translate(1088,720) rotate(-90)">0.250</text><text class="dim" transform="translate(1088,888) rotate(-90)">0.250</text>
<text class="red" transform="translate(1048,770) rotate(-60)">C2(30*40)</text><text class="red" transform="translate(1048,940) rotate(-60)">C2(30*40)</text>
<circle cx="928" cy="1050" r="7" fill="#fff" stroke="#000" stroke-width="0.6"/><text x="928" y="1054" class="sc" text-anchor="middle" style="font-size:9px">9</text>
<text x="941" y="1046" class="ttl">08.SD-ST-COL-C2-SEC08</text><line x1="935" y1="1050" x2="1168" y2="1050" stroke="#999" stroke-width="0.5"/><text x="943" y="1057" class="sc">1 : 25</text>
</g>

<!-- ===== TITLE BLOCK ===== -->
<g fill="none" stroke="#ccc" stroke-width="0.6">
<rect x="1279" y="32" width="252" height="864"/>
<line x1="1279" y1="225" x2="1531" y2="225"/><line x1="1279" y1="283" x2="1531" y2="283"/><line x1="1279" y1="332" x2="1531" y2="332"/><line x1="1279" y1="371" x2="1531" y2="371"/><line x1="1279" y1="409" x2="1531" y2="409"/><line x1="1279" y1="472" x2="1531" y2="472"/><line x1="1279" y1="536" x2="1531" y2="536"/><line x1="1279" y1="598" x2="1531" y2="598"/><line x1="1279" y1="663" x2="1531" y2="663"/><line x1="1279" y1="726" x2="1531" y2="726"/><line x1="1279" y1="795" x2="1531" y2="795"/>
<rect x="1279" y="900" width="252" height="62"/>
<rect x="1279" y="966" width="252" height="51"/>
<rect x="1279" y="1020" width="252" height="35"/>
<line x1="1279" y1="1032" x2="1531" y2="1032"/>
<line x1="1322" y1="1020" x2="1322" y2="1032"/><line x1="1358" y1="1020" x2="1358" y2="1055"/><line x1="1430" y1="1020" x2="1430" y2="1055"/><line x1="1467" y1="1020" x2="1467" y2="1055"/><line x1="1394" y1="1020" x2="1394" y2="1055"/>
<rect x="1279" y="1057" width="252" height="21"/>
<line x1="1279" y1="1070" x2="1531" y2="1070"/><line x1="1358" y1="1057" x2="1358" y2="1078"/><line x1="1462" y1="1057" x2="1462" y2="1078"/>
</g>
<!-- key plan building -->
<g stroke="#555" stroke-width="0.4">
<polygon points="1340,120 1455,172 1525,130 1527,136 1456,186 1338,128" fill="#b38080"/>
<polygon points="1322,112 1400,80 1527,128 1456,176 " fill="#9e9e9e"/>
<polygon points="1322,112 1456,176 1456,182 1322,118" fill="#6e6e6e"/>
<polygon points="1322,95 1400,63 1527,111 1456,159" fill="#a4a4a4"/>
<polygon points="1322,95 1456,159 1456,164 1322,100" fill="#707070"/>
<polygon points="1322,78 1372,57 1392,53 1432,44 1527,92 1456,141" fill="#a8a8a8"/>
<polygon points="1322,78 1456,141 1456,146 1322,83" fill="#707070"/>
<g fill="#6a6a6a" stroke="none"><rect x="1340" y="84" width="3" height="40"/><rect x="1358" y="92" width="3" height="40"/><rect x="1378" y="102" width="3" height="42"/><rect x="1400" y="112" width="3" height="44"/><rect x="1420" y="122" width="3" height="46"/><rect x="1440" y="132" width="3" height="46"/><rect x="1460" y="140" width="3" height="40"/><rect x="1485" y="125" width="3" height="36"/><rect x="1508" y="108" width="3" height="34"/><rect x="1373" y="52" width="3" height="30"/><rect x="1392" y="50" width="3" height="30"/></g>
</g>
<text x="1287" y="48" class="hd" style="font-size:5.5px">KEY PLAN</text>
<!-- logo 1 -->
<g>
<path d="M1357 241H1393V247H1378V271H1372V247H1357Z" fill="none" stroke="#333" stroke-width="1.8"/>
<line x1="1356" y1="272" x2="1457" y2="272" stroke="#333" stroke-width="1.5"/>
<polygon points="1378,250 1400,261 1378,273" fill="none" stroke="#5a84c4" stroke-width="2.2"/>
<text x="1396" y="271" style="font-size:33px;font-weight:bold;fill:#2a2a2a;letter-spacing:-2px">BIM</text>
</g>
<text x="1286" y="292" class="hd">OWNER</text><text x="1516" y="293" class="ar" text-anchor="end">المالك</text>
<text x="1405" y="317" class="bg" text-anchor="middle">TO BIM</text>
<text x="1286" y="343" class="hd">PROJECT NAME</text><text x="1518" y="345" class="ar" text-anchor="end">اسم المشروع</text>
<text x="1405" y="362" class="bg" text-anchor="middle">Project Name</text>
<text x="1286" y="381" class="hd">BUILDING NAME</text><text x="1516" y="380" class="ar" text-anchor="end">اسم المبنى</text>
<text x="1405" y="401" class="bg" text-anchor="middle">Building A</text>
<text x="1286" y="420" class="hd">PROJECT ADDRESS</text><text x="1518" y="422" class="ar" text-anchor="end">عنوان المشروع</text>
<text x="1405" y="448" class="bg" text-anchor="middle">Enter address here</text>
<text x="1286" y="484" class="hd">PROJECT MANAGER</text><text x="1516" y="485" class="ar" text-anchor="end">مدير المشروع</text>
<g class="sm" style="font-size:3.8px;font-weight:bold"><text x="1282" y="513">Address:</text><text x="1282" y="518">8 El-Nour St., Heliopolis,</text><text x="1282" y="523">Cairo, Egypt</text><text x="1282" y="528">Tel: (+20 2) 23895861</text><text x="1282" y="533">Fax: (+20 2) 259155969</text></g>
<text x="1286" y="546" class="hd">MAIN CONSULTANT</text><text x="1514" y="546" class="ar" text-anchor="end">الاستشاري العام</text>
<text x="1286" y="609" class="hd">MAIN CONTRACTOR</text><text x="1514" y="610" class="ar" text-anchor="end">المقاول العام</text>
<g class="sm" style="font-size:3.8px;font-weight:bold"><text x="1284" y="636">Address:</text><text x="1284" y="641">8 El-Nour St., Heliopolis,</text><text x="1284" y="646">Cairo, Egypt</text><text x="1284" y="651">Tel: (+20 2) 23895861</text><text x="1284" y="656">Fax: (+20 2) 259155969</text></g>
<text x="1286" y="673" class="hd">BIM Consultant</text>
<g class="sm"><text x="1284" y="711">Egypt Office</text><text x="1284" y="716">4 halmy abd el atty Street, Nasr</text><text x="1284" y="721">City, Cairo, Egypt</text></g>
<!-- logo 2 -->
<g>
<path d="M1360 740H1396V746H1381V770H1375V746H1360Z" fill="none" stroke="#333" stroke-width="1.8"/>
<line x1="1359" y1="772" x2="1460" y2="772" stroke="#333" stroke-width="1.5"/>
<polygon points="1381,750 1403,761 1381,773" fill="none" stroke="#5a84c4" stroke-width="2.2"/>
<text x="1399" y="770" style="font-size:33px;font-weight:bold;fill:#2a2a2a;letter-spacing:-2px">BIM</text>
</g>
<text x="1286" y="806" class="hd" style="text-decoration:underline">LEGEND:</text>
<g style="font-size:6px;fill:#222"><text x="1286" y="814">T.O.C</text><text x="1322" y="814">Top of CONCERET</text><text x="1286" y="819.5">LVL</text><text x="1322" y="819.5">Level</text><text x="1286" y="825">B1</text><text x="1322" y="825">Bottom RFT. in X-Dir.</text><text x="1286" y="830.5">B2</text><text x="1322" y="830.5">Bottom RFT. in Y-Dir.</text><text x="1286" y="836">T1</text><text x="1322" y="836">Top RFT. in X-Dir.</text><text x="1286" y="841.5">T2</text><text x="1322" y="841.5">Top RFT. in Y-Dir.</text></g>
<g style="font-size:2.8px;fill:#333"><text x="1284" y="850">00</text><text x="1294" y="850">5</text><text x="1302" y="850">T</text><text x="1310" y="850">20</text><text x="1318" y="850">@</text><text x="1327" y="850">200</text><text x="1336" y="850">L=12000</text>
<text x="1350" y="858">Bar Lenght</text><text x="1350" y="863">SPACING</text><text x="1350" y="868">EACH</text><text x="1350" y="873">DIA. OF BAR</text><text x="1350" y="878">INDICATES HIGH YIELD (T)</text><text x="1350" y="883">NO. OF BARS</text><text x="1350" y="888">BAR MARK</text></g>
<g fill="none" stroke="#888" stroke-width="0.3"><path d="M1286 851V888H1348M1295 851V883H1348M1303 851V878H1348M1311 851V873H1348M1319 851V868H1348M1328 851V863H1348M1338 851V858H1348"/></g>
<text x="1283" y="910" class="hd">SIGNATURE</text>
<text x="1312" y="924" class="hd" style="font-size:5.3px">ACTION CODE</text><text x="1312" y="939" class="hd" style="font-size:5.3px">SIGNATURE</text><text x="1312" y="954" class="hd" style="font-size:5.3px">DATE</text>
<g style="font-size:5.5px;fill:#222"><text x="1393" y="916">A</text><text x="1418" y="916">B</text><text x="1443" y="916">C</text><text x="1468" y="916">D</text></g>
<g fill="#fff" stroke="#aaa" stroke-width="0.4"><rect x="1392" y="918" width="6" height="5"/><rect x="1417" y="918" width="6" height="5"/><rect x="1442" y="918" width="6" height="5"/><rect x="1467" y="918" width="6" height="5"/><rect x="1392" y="932" width="82" height="8"/><rect x="1392" y="947" width="82" height="8"/></g>
<text x="1286" y="977" class="hd">DRAWING TITLE</text>
<text x="1405" y="1000" class="bg" text-anchor="middle">SD-ST-COL&amp;AXIS-CONC-SEC</text>
<g style="font-size:3.3px;fill:#444"><text x="1288" y="1028">SCALE</text><text x="1305" y="1028">@A0</text><text x="1330" y="1028">DRAWN</text><text x="1366" y="1028">DESIGNED</text><text x="1404" y="1028">CHECKED</text><text x="1440" y="1028">APPROVED</text><text x="1496" y="1028">DATE</text>
<text x="1298" y="1075">TRADE</text><text x="1400" y="1074">SHEET NUMBER</text><text x="1494" y="1075">REV</text></g>
<g style="font-size:5.3px;font-weight:bold;fill:#111"><text x="1289" y="1045">1 : 25</text><text x="1329" y="1045">Author</text><text x="1366" y="1044">Designer</text><text x="1404" y="1044">Approver</text><text x="1441" y="1045">Checker</text></g>
<text x="1298" y="1066" style="font-size:8px;fill:#111">SUR</text>
<text x="1398" y="1066" style="font-size:11px;font-weight:bold;fill:#111">S.11</text>
</svg>
</body></html>
